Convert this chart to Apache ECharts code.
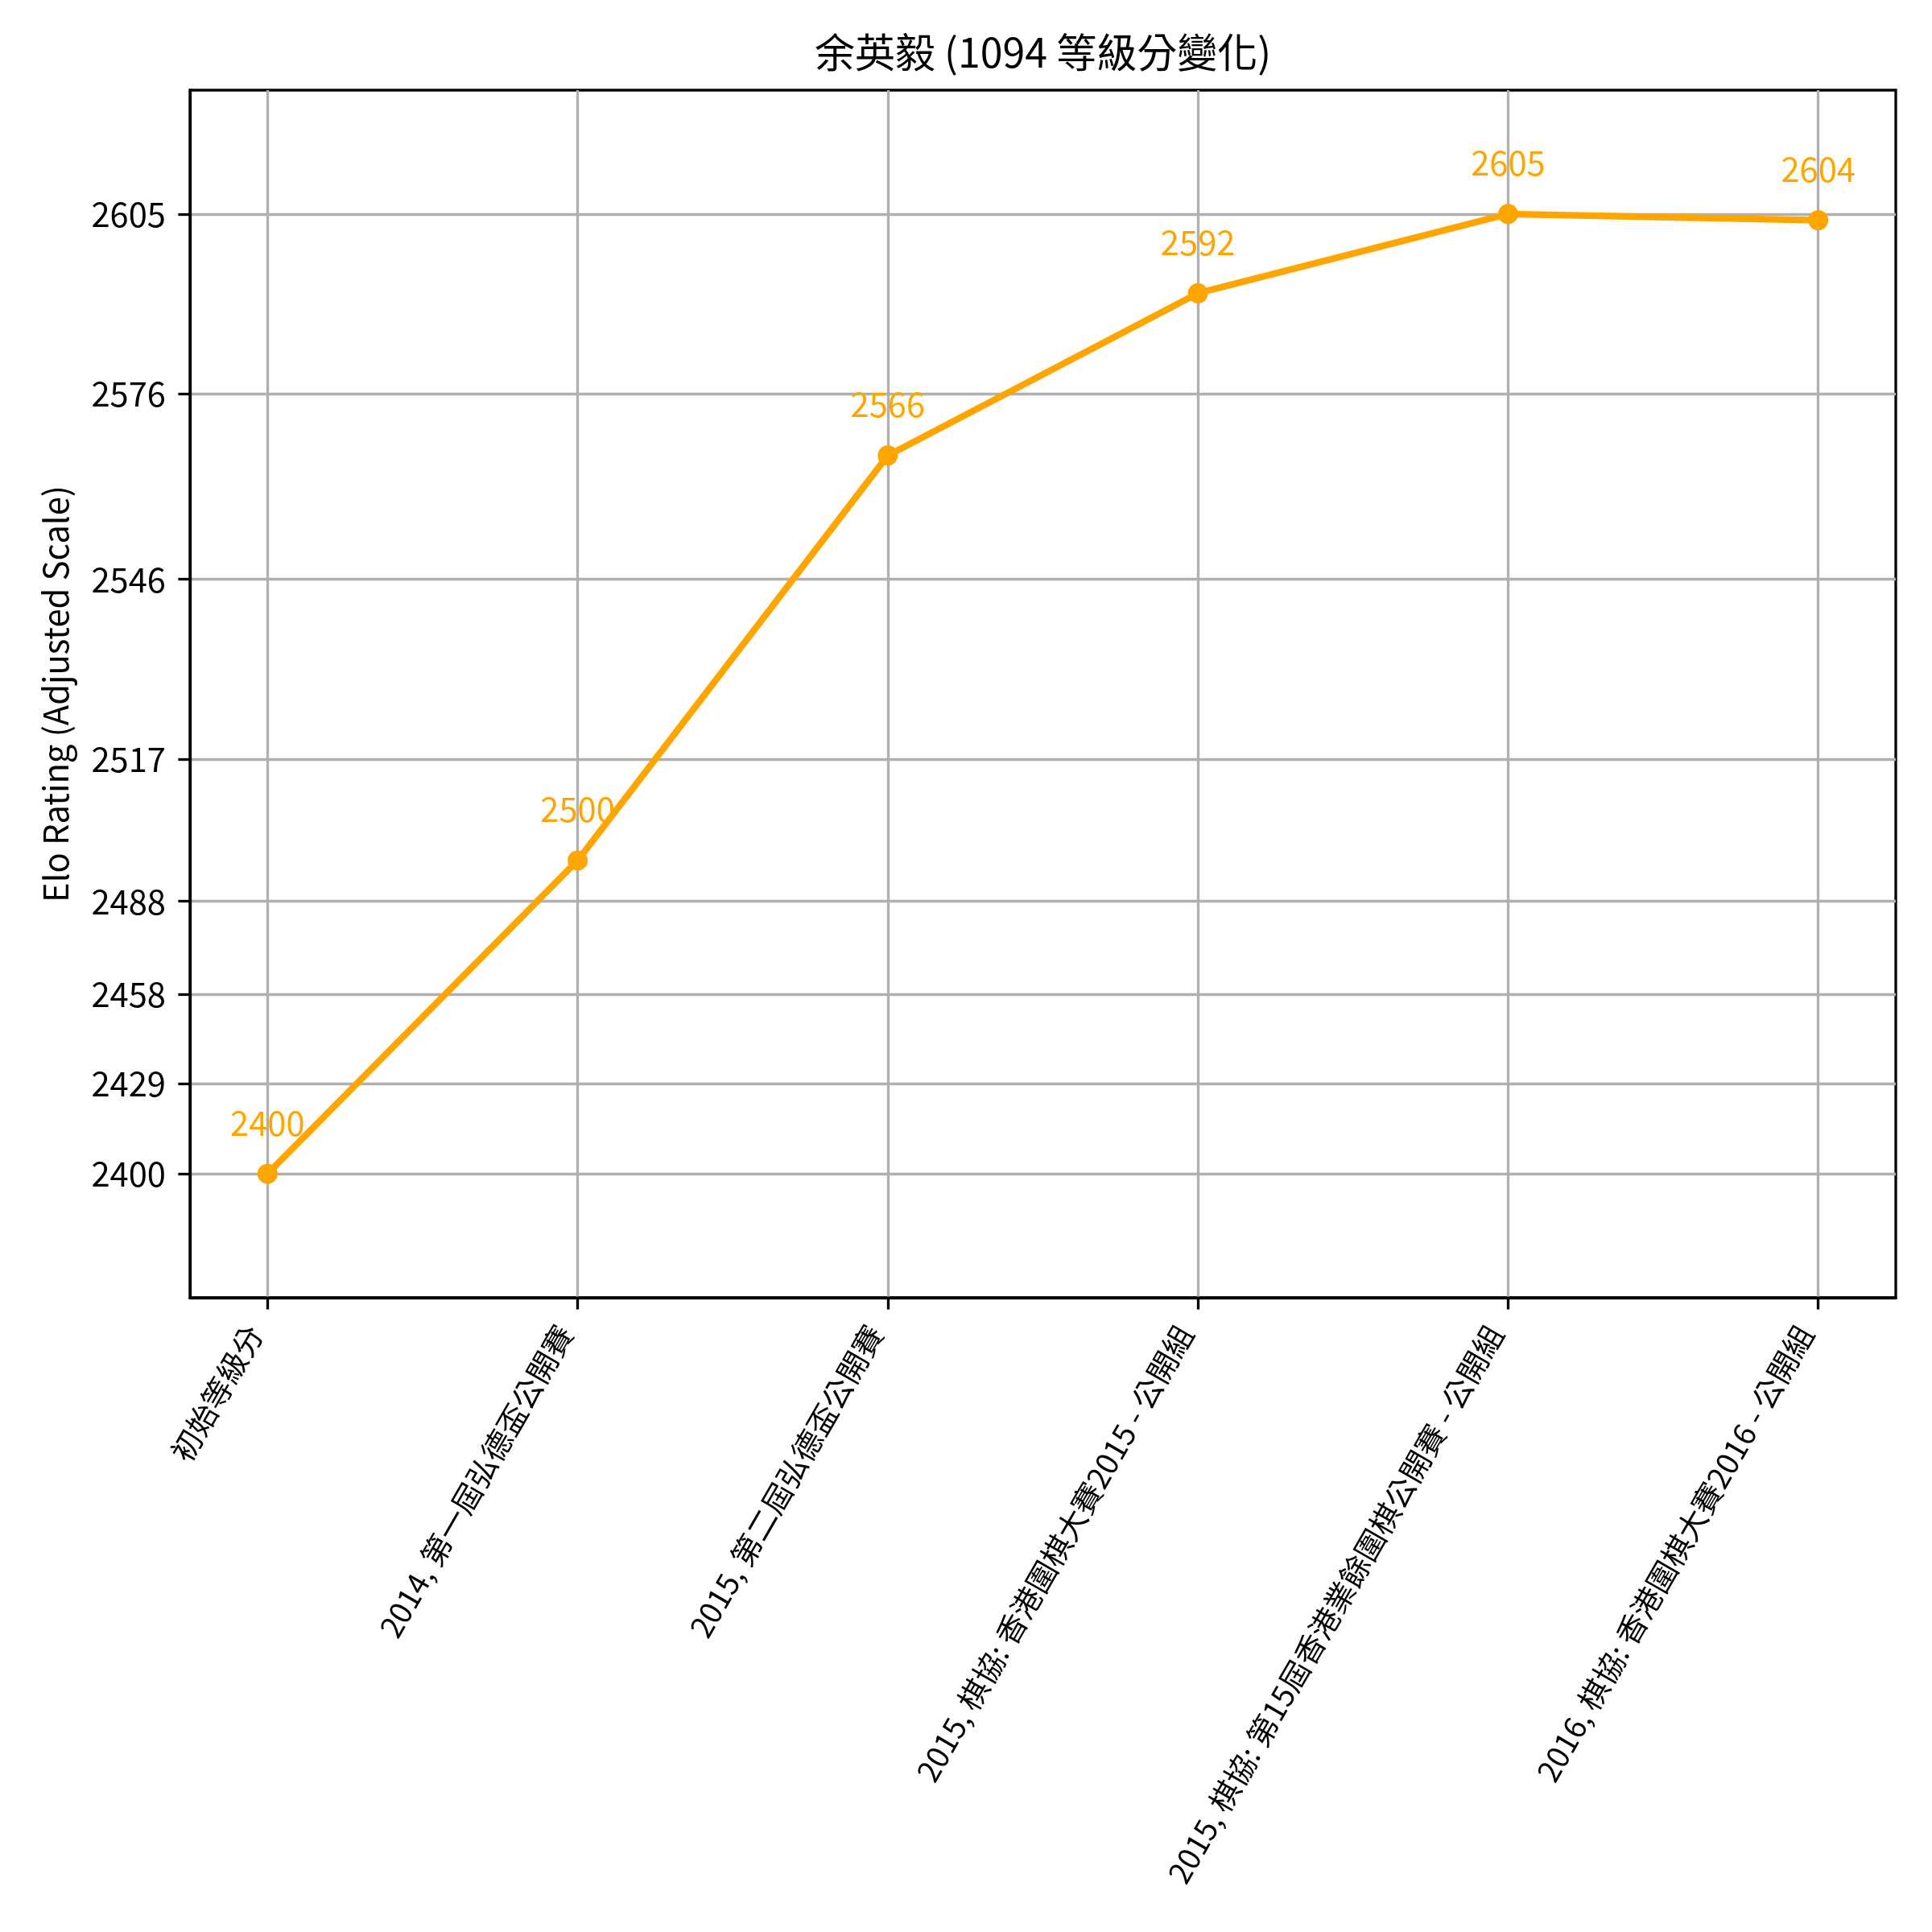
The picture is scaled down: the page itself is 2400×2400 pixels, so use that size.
<!DOCTYPE html>
<html>
<head>
<meta charset="utf-8">
<script src="https://cdn.jsdelivr.net/npm/echarts@6/dist/echarts.min.js"></script>
<style>
html,body{margin:0;padding:0;background:#fff;}
#chart{width:2400px;height:2400px;}
</style>
</head>
<body>
<div id="chart"></div>
<script>
// ---- data ----
const titleText = '余英毅 (1094 等級分變化)';
const yAxisName = 'Elo Rating (Adjusted Scale)';
const categories = [
  '初始等級分',
  '2014, 第一屆弘德盃公開賽',
  '2015, 第二屆弘德盃公開賽',
  '2015, 棋協: 香港圍棋大賽2015 - 公開組',
  '2015, 棋協: 第15屆香港業餘圍棋公開賽 - 公開組',
  '2016, 棋協: 香港圍棋大賽2016 - 公開組'
];
const ratings = [2400, 2500.6, 2566, 2592.2, 2605, 2604];
const yTickLabels = [2400, 2429, 2458, 2488, 2517, 2546, 2576, 2605];
const yRange = [2360, 2625];   // visible range in rating units (adjusted scale)
const breakPoint = 2500;       // below this value the scale is compressed by half

// adjusted scale transform
function fwd(v){ return v >= breakPoint ? v : breakPoint - (breakPoint - v) / 2; }
function inv(t){ return t >= breakPoint ? t : breakPoint - (breakPoint - t) * 2; }

const FONT = '"Noto Sans CJK TC", "Noto Sans", sans-serif';
const ORANGE = '#FFA500';
const GRID = '#b0b0b0';

const seriesData = ratings.map((v, i) => [i, fwd(v), v]);
const xTicks = categories.map((c, i) => i);
const yTicks = yTickLabels.map(fwd);

const chart = echarts.init(document.getElementById('chart'), null, {renderer: 'canvas'});
chart.setOption({
  animation: false,
  backgroundColor: '#ffffff',
  title: {
    text: titleText,
    left: 1295.5,
    textAlign: 'center',
    top: 40,
    padding: 0,
    textStyle: {fontFamily: FONT, fontSize: 50, fontWeight: 'normal', color: '#000'}
  },
  grid: {
    left: 236, right: 45, top: 112, bottom: 788,
    outerBoundsMode: 'none',
    containLabel: false,
    show: true, borderColor: '#000', borderWidth: 3.3, backgroundColor: 'transparent'
  },
  xAxis: {
    type: 'value',
    min: -0.25, max: 5.25,
    axisLine: {show: true, onZero: false, lineStyle: {color: '#000', width: 3.3}},
    axisTick: {show: true, customValues: xTicks, length: 14.6, lineStyle: {color: '#000', width: 3.3}},
    axisLabel: {
      show: true, customValues: xTicks, rotate: 60, margin: 10,
      padding: [0, 32, 0, 0],
      fontFamily: FONT, fontSize: 37.5, color: '#000',
      formatter: v => categories[Math.round(v)] || ''
    },
    splitLine: {show: true, lineStyle: {color: GRID, width: 3.3}}
  },
  yAxis: {
    type: 'value',
    min: fwd(yRange[0]), max: fwd(yRange[1]),
    name: yAxisName,
    nameLocation: 'middle',
    nameGap: 146,
    nameTextStyle: {fontFamily: FONT, fontSize: 41.7, color: '#000'},
    axisLine: {show: true, onZero: false, lineStyle: {color: '#000', width: 3.3}},
    axisTick: {show: true, customValues: yTicks, length: 14.6, lineStyle: {color: '#000', width: 3.3}},
    axisLabel: {
      show: true, customValues: yTicks, margin: 30,
      fontFamily: FONT, fontSize: 41.7, color: '#000',
      formatter: v => String(Math.round(inv(v)))
    },
    splitLine: {show: true, lineStyle: {color: GRID, width: 3.3}}
  },
  series: [{
    type: 'line',
    data: seriesData,
    encode: {x: 0, y: 1},
    symbol: 'circle',
    symbolSize: 25,
    lineStyle: {color: ORANGE, width: 8.3},
    itemStyle: {color: ORANGE},
    label: {
      show: true, position: 'top', distance: 30,
      fontFamily: FONT, fontSize: 41.7, color: ORANGE,
      formatter: p => String(Math.floor(p.value[2]))
    }
  }]
});
</script>
</body>
</html>
